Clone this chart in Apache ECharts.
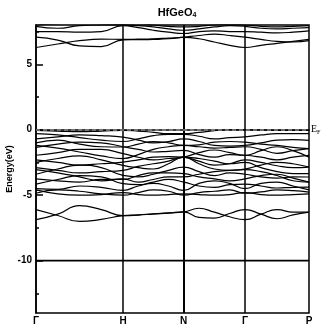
<!DOCTYPE html>
<html>
<head>
<meta charset="utf-8">
<script src="https://cdn.jsdelivr.net/npm/echarts@6/dist/echarts.min.js"></script>
<style>
html,body{margin:0;padding:0;background:#fff;}
#chart{width:327px;height:327px;}
</style>
</head>
<body>
<div id="chart"></div>
<script>
// k-path sample positions (high-symmetry points at 0, 87, 147.7, 209, 273)
var kPath = [0, 21.75, 43.5, 65.25, 87, 102.2, 117.4, 132.5, 147.7, 163, 178.35, 193.7, 209, 225, 241, 257, 273];
var kTicks = [0, 87, 147.7, 209, 273];
var kLabels = ['Γ', 'H', 'N', 'Γ', 'P'];
var yMajor = [-10, -5, 0, 5];
var yMinor = [-12.5, -7.5, -2.5, 2.5, 7.5];

// conduction bands (eV)
var cb1 = [6.28, 6.55, 6.8, 6.92, 6.9, 6.92, 6.95, 7.0, 7.05, 6.95, 6.7, 6.45, 6.28, 6.45, 6.6, 6.75, 6.9];
var cb2 = [7.07, 6.85, 6.4, 6.35, 6.87, 6.88, 6.9, 6.95, 7.07, 7.2, 7.3, 7.2, 7.07, 6.9, 6.75, 6.7, 6.8];
var cb3 = [7.5, 7.5, 7.45, 7.5, 7.95, 7.8, 7.6, 7.45, 7.35, 7.5, 7.55, 7.5, 7.5, 7.45, 7.4, 7.45, 7.55];
var cb4 = [7.9, 7.75, 7.95, 8.0, 8.0, 7.95, 7.85, 7.7, 7.6, 7.7, 7.85, 7.95, 7.9, 7.75, 7.7, 7.75, 7.8];
var cb5 = [8.0, 8.1, 8.2, 8.1, 8.05, 8.1, 8.0, 7.9, 7.85, 7.9, 8.0, 8.05, 8.0, 7.9, 7.85, 7.9, 7.95];

// valence bands (eV)
var vb1 = [-0.05, -0.1, -0.15, -0.1, -0.05, -0.1, -0.2, -0.3, -0.3, -0.2, -0.08, 0.0, 0.0, -0.02, -0.05, -0.05, -0.05];
var vb2 = [-0.3, -0.4, -0.6, -0.8, -0.9, -0.7, -0.45, -0.35, -0.35, -0.5, -0.7, -0.6, -0.55, -0.4, -0.3, -0.3, -0.3];
var vb3 = [-0.7, -0.55, -0.4, -0.45, -0.56, -0.8, -1.0, -0.9, -0.7, -0.9, -1.2, -1.25, -1.2, -1.0, -0.8, -0.75, -0.81];
var vb4 = [-1.2, -1.4, -1.7, -2.0, -2.2, -1.9, -1.5, -1.3, -1.2, -1.3, -1.4, -1.35, -1.3, -1.5, -1.8, -1.6, -1.45];
var vb5 = [-1.35, -1.1, -0.95, -1.0, -1.3, -1.5, -1.7, -1.65, -1.58, -1.9, -2.1, -1.9, -1.95, -2.1, -2.3, -2.1, -1.96];
var vb6 = [-1.95, -1.75, -1.5, -1.5, -1.83, -2.1, -2.3, -2.2, -2.09, -1.75, -1.55, -1.75, -1.95, -1.6, -1.3, -1.6, -2.09];
var vb7 = [-2.3, -2.5, -2.7, -2.6, -2.47, -2.3, -2.1, -2.05, -2.09, -2.4, -2.7, -2.6, -2.3, -2.5, -2.75, -2.9, -2.85];
var vb8 = [-2.5, -2.2, -2.0, -2.3, -2.72, -2.9, -3.0, -2.6, -2.09, -2.6, -3.0, -3.1, -3.0, -2.7, -2.5, -2.6, -2.85];
var vb9 = [-2.9, -3.1, -3.3, -3.2, -3.1, -2.8, -2.6, -2.4, -2.09, -2.2, -2.4, -2.6, -2.5, -2.9, -3.2, -3.35, -3.36];
var vb10 = [-3.4, -3.0, -2.7, -2.9, -3.49, -3.6, -3.4, -3.1, -2.85, -3.2, -3.5, -3.3, -3.4, -3.6, -3.7, -3.6, -3.61];
var vb11 = [-3.75, -3.9, -4.0, -3.8, -3.8, -3.5, -3.3, -3.3, -3.36, -3.6, -3.75, -3.9, -3.75, -3.5, -3.4, -3.7, -4.0];
var vb12 = [-4.15, -3.8, -3.5, -3.6, -4.12, -4.2, -4.0, -3.8, -4.0, -4.3, -4.4, -4.2, -4.15, -4.3, -4.45, -4.4, -4.38];
var vb13 = [-4.5, -4.55, -4.3, -4.4, -4.63, -4.3, -4.1, -4.3, -4.63, -4.1, -3.9, -4.1, -4.5, -4.1, -4.0, -4.3, -4.6];
var vb14 = [-4.85, -4.6, -4.7, -4.9, -5.0, -4.8, -4.6, -4.7, -5.0, -4.8, -4.7, -4.6, -4.85, -4.75, -4.6, -4.65, -4.76];
var vb15 = [-4.6, -4.9, -5.0, -4.95, -4.8, -4.95, -5.0, -4.95, -4.9, -4.95, -5.0, -4.95, -4.8, -4.95, -5.0, -4.95, -4.9];
var vb16 = [-1.0, -0.8, -1.1, -1.3, -1.32, -1.1, -0.9, -1.0, -1.2, -1.15, -0.95, -0.9, -0.95, -1.1, -1.2, -1.35, -1.45];
var vb17 = [-3.05, -3.3, -3.6, -3.9, -3.75, -4.0, -3.8, -3.6, -3.6, -3.4, -3.2, -3.1, -3.05, -3.2, -3.5, -3.9, -4.0];

// lower bands (eV)
var lb1 = [-6.1, -6.55, -7.0, -6.85, -6.56, -6.5, -6.42, -6.35, -6.28, -6.0, -6.3, -6.65, -6.87, -6.45, -6.1, -6.3, -6.3];
var lb2 = [-6.87, -6.45, -5.8, -6.1, -6.56, -6.52, -6.44, -6.37, -6.28, -6.7, -6.75, -6.4, -6.1, -6.45, -6.8, -6.5, -6.3];
var lb3 = [-10, -10, -10, -10, -10, -10, -10, -10, -10, -10, -10, -10, -10, -10, -10, -10, -10];

var bands = [cb1, cb2, cb3, cb4, cb5, vb1, vb2, vb3, vb4, vb5, vb6, vb7, vb8, vb9, vb10, vb11, vb12, vb13, vb14, vb15, vb16, vb17, lb1, lb2, lb3];

var chart = echarts.init(document.getElementById('chart'), null, {renderer: 'canvas'});
var FONT = 'Liberation Sans';

var series = bands.map(function (b, bi) {
  return {
    type: 'line',
    data: kPath.map(function (k, i) { return [k, b[i]]; }),
    showSymbol: false,
    symbol: 'none',
    smooth: 0.5,
    silent: true,
    clip: true,
    lineStyle: {color: '#000', width: bi === bands.length - 1 ? 1.6 : 1.2},
    z: 3
  };
});

series.push({
  type: 'line',
  data: [],
  silent: true,
  markLine: {
    symbol: 'none',
    silent: true,
    animation: false,
    label: {show: false},
    data: [
      {xAxis: kTicks[1], lineStyle: {color: '#000', width: 1.5, type: 'solid'}},
      {xAxis: kTicks[2], lineStyle: {color: '#000', width: 2, type: 'solid'}},
      {xAxis: kTicks[3], lineStyle: {color: '#000', width: 1.5, type: 'solid'}},
      {
        yAxis: 0,
        lineStyle: {color: '#888', width: 1.6, type: [4, 3]},
        label: {
          show: true,
          position: 'end',
          distance: 2,
          formatter: '{e|E}{f|F}',
          rich: {
            e: {fontFamily: 'Liberation Serif', fontSize: 10, color: '#000'},
            f: {fontFamily: 'Liberation Serif', fontSize: 6, color: '#000', verticalAlign: 'bottom', padding: [6, 0, 0, 0]}
          }
        }
      }
    ]
  },
  z: 2
});

chart.setOption({
  animation: false,
  backgroundColor: '#fff',
  title: {
    text: 'HfGeO{s|4}',
    left: 172,
    textAlign: 'center',
    top: 1,
    textStyle: {
      fontFamily: FONT, fontSize: 11, fontWeight: 'bold', color: '#000',
      rich: {s: {fontFamily: FONT, fontSize: 7, fontWeight: 'bold', color: '#000', verticalAlign: 'bottom', padding: [6, 0, 0, 0]}}
    }
  },
  grid: {left: 36, right: 18, top: 25, bottom: 14, containLabel: false, outerBoundsMode: 'none', show: true, borderColor: '#000', borderWidth: 1.5, backgroundColor: 'transparent'},
  xAxis: {
    type: 'value', min: 0, max: 273,
    axisLine: {show: true, lineStyle: {color: '#000', width: 1.5}},
    axisTick: {show: false},
    splitLine: {show: false},
    axisLabel: {
      customValues: kTicks,
      margin: 3,
      fontFamily: FONT, fontSize: 10, fontWeight: 'bold', color: '#000',
      formatter: function (v) {
        for (var i = 0; i < kTicks.length; i++) { if (Math.abs(kTicks[i] - v) < 0.01) return kLabels[i]; }
        return '';
      }
    }
  },
  yAxis: [{
    type: 'value', min: -14, max: 8,
    name: 'Energy(eV)', nameLocation: 'middle', nameGap: 22, nameRotate: 90, nameMoveOverlap: false,
    nameTextStyle: {fontFamily: FONT, fontSize: 9, fontWeight: 'bold', color: '#000', padding: [0, 0, 0, 0]},
    axisLine: {show: true, lineStyle: {color: '#000', width: 1.5}},
    axisTick: {show: true, inside: true, length: 7, customValues: yMajor, lineStyle: {color: '#000', width: 1.5}},
    splitLine: {show: false},
    axisLabel: {customValues: yMajor, margin: 4, fontFamily: FONT, fontSize: 10, fontWeight: 'bold', color: '#000'}
  }, {
    type: 'value', min: -14, max: 8, position: 'left',
    axisLine: {show: false},
    axisTick: {show: true, inside: true, length: 3, customValues: yMinor, lineStyle: {color: '#000', width: 1.5}},
    axisLabel: {show: false},
    splitLine: {show: false}
  }],
  series: series
});
</script>
</body>
</html>
